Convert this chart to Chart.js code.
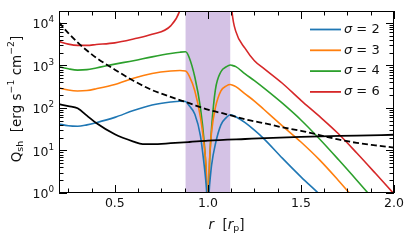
<!DOCTYPE html>
<html>
<head>
<meta charset="utf-8">
<script src="https://cdn.jsdelivr.net/npm/chart.js@4.4.0/dist/chart.umd.min.js"></script>
<style>
  html, body { margin: 0; padding: 0; background: #fff; }
  #wrap { width: 415px; height: 244px; }
</style>
</head>
<body>
<div id="wrap"><canvas id="qshChart" width="415" height="244"></canvas></div>
<script>
// radius grid in units of r_p, shared by the sigma curves
const rGrid = [0.2, 0.25, 0.3, 0.35, 0.4, 0.5, 0.6, 0.7, 0.8, 0.85, 0.88, 0.9, 0.93, 0.96, 0.98, 0.99, 1.0,
  1.01, 1.02, 1.04, 1.07, 1.1, 1.12, 1.13, 1.15, 1.2, 1.25, 1.3, 1.4, 1.5, 1.6, 1.7, 1.8, 1.9, 2.0];

// Q_sh [erg s^-1 cm^-2] for each sigma
const qSigma2 = [42, 38, 37, 40, 45, 60, 87, 117, 138, 144, 141, 112, 71, 22, 4.5, 1.7, 0.5,
  1.7, 4.6, 14, 40, 60, 69, 68, 62, 45, 30, 19, 6.6, 2.4, 0.93, 0.35, null, null, null];
const qSigma3 = [295, 263, 251, 257, 282, 355, 501, 646, 741, 759, 741, 562, 251, 60, 13, 4.5, 0.5,
  7.5, 28, 100, 251, 331, 355, 347, 316, 214, 145, 93, 38, 15.8, 6.0, 2.0, 0.63, null, null];
const qSigma4 = [933, 832, 776, 794, 871, 1072, 1288, 1585, 1905, 2042, 2089, 1514, 525, 100, 16, 3.6, 0.5,
  6.6, 35, 263, 708, 933, 1023, 1000, 933, 631, 437, 295, 129, 52, 18.6, 6.2, 2.0, 0.63, null];
const qSigma6 = [3631, 3162, 2951, 2951, 3090, 3388, 4169, 5370, 8511, 19953, 79433, null, null, null, null, null, null,
  null, null, null, null, null, 79433, 17783, 6310, 2512, 1288, 851, 380, 151, 63, 25, 8.7, 2.9, 0.95];

// black solid curve
const rSolid = [0.2, 0.25, 0.3, 0.35, 0.4, 0.5, 0.6, 0.65, 0.7, 0.8, 0.9, 1.0, 1.2, 1.5, 1.8, 2.0];
const qSolid = [123, 110, 98, 66, 44, 24, 16.2, 14.1, 14.1, 14.8, 15.8, 17.0, 18.6, 20.9, 22.4, 23.4];

// black dashed curve
const rDashed = [0.2, 0.25, 0.3, 0.35, 0.4, 0.5, 0.6, 0.7, 0.8, 0.9, 1.0, 1.1, 1.2, 1.3, 1.4, 1.5, 1.6, 1.7, 1.8, 1.9, 2.0];
const qDashed = [10233, 5754, 3467, 2239, 1514, 794, 437, 263, 182, 129, 91, 71, 54, 44, 35, 29, 23, 18.2, 15.1, 13.2, 11.7];

const sigmaLabels = ['2', '3', '4', '6'];
const sigmaColors = ['#1f77b4', '#ff7f0e', '#2ca02c', '#d62728'];
const xTickLabels = [0.5, 1.0, 1.5, 2.0];
const yDecades = [0, 1, 2, 3, 4];
const hillBand = [0.88, 1.12];

const FONT = '"DejaVu Sans", sans-serif';

function pts(xs, ys) {
  return xs.map((x, i) => ({ x: x, y: ys[i] }));
}

// draws a little run of text pieces: 'n' normal, 'i' italic, 'sup', 'sub'
function drawRich(ctx, parts, x, y, size, align) {
  const fontFor = k => (k === 'i' ? 'italic ' : '') +
    ((k === 'sup' || k === 'sub') ? (size * 0.7).toFixed(1) : size) + 'px ' + FONT;
  let total = 0;
  const widths = parts.map(([t, k]) => {
    ctx.font = fontFor(k);
    const w = ctx.measureText(t).width;
    total += w;
    return w;
  });
  let cx = align === 'center' ? x - total / 2 : (align === 'right' ? x - total : x);
  ctx.textAlign = 'left';
  ctx.textBaseline = 'middle';
  parts.forEach(([t, k], i) => {
    ctx.font = fontFor(k);
    const dy = k === 'sup' ? -size * 0.4 : (k === 'sub' ? size * 0.28 : 0);
    ctx.fillText(t, cx, y + dy);
    cx += widths[i];
  });
}

const bandPlugin = {
  id: 'band',
  beforeDatasetsDraw(chart) {
    const { ctx, chartArea: a, scales: { x } } = chart;
    const x0 = x.getPixelForValue(hillBand[0]);
    const x1 = x.getPixelForValue(hillBand[1]);
    ctx.save();
    ctx.fillStyle = 'rgba(148, 103, 189, 0.4)';
    ctx.fillRect(x0, a.top, x1 - x0, a.bottom - a.top);
    ctx.restore();
  }
};

const axesPlugin = {
  id: 'axesDeco',
  afterDraw(chart) {
    const { ctx, chartArea: a, scales: { x, y } } = chart;
    ctx.save();
    ctx.strokeStyle = '#000';
    ctx.lineWidth = 1;
    ctx.strokeRect(a.left + 0.5, a.top + 0.5, a.right - a.left - 1, a.bottom - a.top - 1);

    const tick = (px, len, horiz) => {
      ctx.beginPath();
      const p = Math.round(px) + 0.5;
      if (horiz) {
        ctx.moveTo(p, a.bottom); ctx.lineTo(p, a.bottom - len);
        ctx.moveTo(p, a.top); ctx.lineTo(p, a.top + len);
      } else {
        ctx.moveTo(a.left, p); ctx.lineTo(a.left + len, p);
        ctx.moveTo(a.right, p); ctx.lineTo(a.right - len, p);
      }
      ctx.stroke();
    };

    // x ticks: major every 0.5, minor every 0.125
    for (let v = 0.25; v <= 2.0001; v += 0.125) {
      const major = xTickLabels.some(t => Math.abs(t - v) < 1e-6);
      tick(x.getPixelForValue(v), major ? 8 : 4.5, true);
    }
    // y ticks: decades and 2..9 minors
    yDecades.forEach(d => {
      for (let m = 1; m <= 9; m++) {
        const v = m * Math.pow(10, d);
        if (v > y.max) break;
        tick(y.getPixelForValue(v), m === 1 ? 8 : 4.5, false);
      }
    });

    ctx.fillStyle = '#111';
    xTickLabels.forEach(v => {
      drawRich(ctx, [[v.toFixed(1), 'n']], x.getPixelForValue(v), a.bottom + 11, 12.5, 'center');
    });
    yDecades.forEach(d => {
      drawRich(ctx, [['10', 'n'], [String(d), 'sup']], a.left - 5, y.getPixelForValue(Math.pow(10, d)) + 2, 12.5, 'right');
    });

    // axis titles
    drawRich(ctx, [['r', 'i'], ['  [', 'n'], ['r', 'i'], ['p', 'sub'], [']', 'n']],
      (a.left + a.right) / 2, a.bottom + 32, 13.5, 'center');
    ctx.save();
    ctx.translate(17, (a.top + a.bottom) / 2 - 3);
    ctx.rotate(-Math.PI / 2);
    drawRich(ctx, [['Q', 'n'], ['sh', 'sub'], ['  [erg s', 'n'], ['\u22121', 'sup'], [' cm', 'n'], ['\u22122', 'sup'], [']', 'n']],
      0, 0, 13.5, 'center');
    ctx.restore();

    // legend
    sigmaLabels.forEach((s, i) => {
      const ly = 29.5 + i * 20.8;
      ctx.strokeStyle = sigmaColors[i];
      ctx.lineWidth = 1.8;
      ctx.beginPath();
      ctx.moveTo(310, ly); ctx.lineTo(341, ly);
      ctx.stroke();
      ctx.fillStyle = '#111';
      drawRich(ctx, [['\u03c3', 'i'], [' = ' + s, 'n']], 344, ly, 13, 'left');
    });
    ctx.restore();
  }
};

const lineDefaults = { pointRadius: 0, fill: false, cubicInterpolationMode: 'monotone', spanGaps: false, clip: 0 };

new Chart(document.getElementById('qshChart').getContext('2d'), {
  type: 'line',
  data: {
    datasets: [
      Object.assign({ label: 'solid', data: pts(rSolid, qSolid), borderColor: '#000', borderWidth: 1.8 }, lineDefaults),
      Object.assign({ label: 'dashed', data: pts(rDashed, qDashed), borderColor: '#000', borderWidth: 1.8, borderDash: [6, 3] }, lineDefaults),
      Object.assign({ label: '\u03c3 = 2', data: pts(rGrid, qSigma2), borderColor: sigmaColors[0], borderWidth: 1.6 }, lineDefaults),
      Object.assign({ label: '\u03c3 = 3', data: pts(rGrid, qSigma3), borderColor: sigmaColors[1], borderWidth: 1.6 }, lineDefaults),
      Object.assign({ label: '\u03c3 = 4', data: pts(rGrid, qSigma4), borderColor: sigmaColors[2], borderWidth: 1.6 }, lineDefaults),
      Object.assign({ label: '\u03c3 = 6', data: pts(rGrid, qSigma6), borderColor: sigmaColors[3], borderWidth: 1.6 }, lineDefaults)
    ]
  },
  options: {
    responsive: false,
    animation: false,
    devicePixelRatio: 1,
    layout: { padding: { left: 59, right: 21, top: 11, bottom: 51 } },
    plugins: { legend: { display: false }, tooltip: { enabled: false } },
    scales: {
      x: { type: 'linear', min: 0.2, max: 2.0, display: false },
      y: { type: 'logarithmic', min: 1, max: 19000, display: false }
    }
  },
  plugins: [bandPlugin, axesPlugin]
});
</script>
</body>
</html>
